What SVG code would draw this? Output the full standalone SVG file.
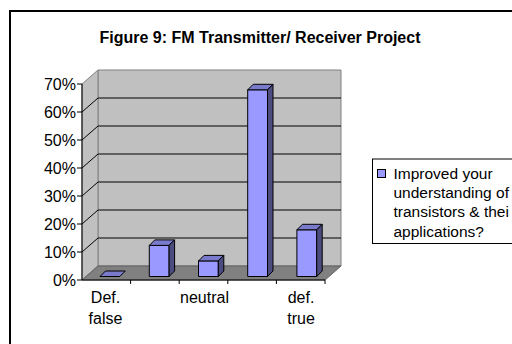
<svg xmlns="http://www.w3.org/2000/svg" width="512" height="344" viewBox="0 0 512 344">
<style>
text{font-family:"Liberation Sans",Arial,sans-serif;fill:#000}
.t{font-size:16px;font-weight:bold;text-anchor:middle}
.ax{font-size:16px}
.yl{text-anchor:end}
.xl{text-anchor:middle}
.lg{font-size:15.5px}
.wall{fill:#c0c0c0;stroke:#808080;stroke-width:1}
.grid{stroke:#000;stroke-width:1;fill:none}
.axis{stroke:#000;stroke-width:1;fill:none}
.front{fill:#9999ff;stroke:#000;stroke-width:1;stroke-linejoin:round}
.top{fill:#7a7acc;stroke:#000;stroke-width:1;stroke-linejoin:round}
.side{fill:#4c4c80;stroke:#000;stroke-width:1;stroke-linejoin:round}
</style>
<rect width="512" height="344" fill="#fff"/>
<rect id="frame" x="10" y="11" width="600" height="400" fill="none" stroke="#000" stroke-width="2"/>
<text id="title" class="t" x="260" y="43">Figure 9: FM Transmitter/ Receiver Project</text>

<g id="plot">
  <polygon class="wall" points="98,70 341,70 341,266 98,266"/>
  <polygon class="wall" points="82,84 98,70 98,266 82,280"/>
  <g class="grid">
    <polyline points="82,112 98,98 341,98"/>
    <polyline points="82,140 98,126 341,126"/>
    <polyline points="82,168 98,154 341,154"/>
    <polyline points="82,196 98,182 341,182"/>
    <polyline points="82,224 98,210 341,210"/>
    <polyline points="82,252 98,238 341,238"/>
  </g>
  <polygon points="82,280 98,266 341,266 325,280" fill="#808080" stroke="#606060" stroke-width="1"/>
  <g class="axis">
    <line x1="82" y1="84" x2="82" y2="280"/>
    <line x1="82" y1="280" x2="325" y2="280"/>
    <line x1="77" y1="84" x2="82" y2="84"/>
    <line x1="77" y1="112" x2="82" y2="112"/>
    <line x1="77" y1="140" x2="82" y2="140"/>
    <line x1="77" y1="168" x2="82" y2="168"/>
    <line x1="77" y1="196" x2="82" y2="196"/>
    <line x1="77" y1="224" x2="82" y2="224"/>
    <line x1="77" y1="252" x2="82" y2="252"/>
    <line x1="77" y1="280" x2="82" y2="280"/>
    <line x1="130.6" y1="280" x2="130.6" y2="284"/>
    <line x1="179.2" y1="280" x2="179.2" y2="284"/>
    <line x1="227.8" y1="280" x2="227.8" y2="284"/>
    <line x1="276.4" y1="280" x2="276.4" y2="284"/>
    <line x1="325" y1="280" x2="325" y2="284"/>
  </g>
  <g class="ax yl">
    <text x="76" y="89.7">70%</text>
    <text x="76" y="117.7">60%</text>
    <text x="76" y="145.7">50%</text>
    <text x="76" y="173.7">40%</text>
    <text x="76" y="201.7">30%</text>
    <text x="76" y="229.7">20%</text>
    <text x="76" y="257.7">10%</text>
    <text x="76" y="285.7">0%</text>
  </g>
  <g class="ax xl">
    <text x="105.5" y="303">Def.</text>
    <text x="105.5" y="324">false</text>
    <text x="204.5" y="303">neutral</text>
    <text x="301" y="303">def.</text>
    <text x="301" y="324">true</text>
  </g>
</g>

<g id="bar1">
  <polygon class="top" points="100,276.5 119.8,276.5 125.3,271 105.5,271"/>
</g>
<g id="bar2">
  <rect class="front" x="149.3" y="245.4" width="19.8" height="31.1"/>
  <polygon class="top" points="149.3,245.4 169.1,245.4 174.6,239.9 154.8,239.9"/>
  <polygon class="side" points="169.1,245.4 174.6,239.9 174.6,271 169.1,276.5"/>
</g>
<g id="bar3">
  <rect class="front" x="198.5" y="260.9" width="19.8" height="15.6"/>
  <polygon class="top" points="198.5,260.9 218.3,260.9 223.8,255.4 204,255.4"/>
  <polygon class="side" points="218.3,260.9 223.8,255.4 223.8,271 218.3,276.5"/>
</g>
<g id="bar4">
  <rect class="front" x="247.7" y="89.8" width="19.8" height="186.7"/>
  <polygon class="top" points="247.7,89.8 267.5,89.8 273,84.3 253.2,84.3"/>
  <polygon class="side" points="267.5,89.8 273,84.3 273,271 267.5,276.5"/>
</g>
<g id="bar5">
  <rect class="front" x="296.9" y="229.8" width="19.8" height="46.7"/>
  <polygon class="top" points="296.9,229.8 316.7,229.8 322.2,224.3 302.4,224.3"/>
  <polygon class="side" points="316.7,229.8 322.2,224.3 322.2,271 316.7,276.5"/>
</g>

<g id="legend">
  <rect x="372.5" y="159" width="200" height="84.5" fill="#fff" stroke="#000" stroke-width="1"/>
  <rect x="377.5" y="169.5" width="8" height="8" fill="#9999ff" stroke="#000" stroke-width="1"/>
  <text class="lg" x="393.5" y="179">Improved your</text>
  <text class="lg" x="393.5" y="198">understanding of</text>
  <text class="lg" x="393.5" y="217.3">transistors &amp; thei</text>
  <text class="lg" x="393.5" y="236.5">applications?</text>
</g>
</svg>
